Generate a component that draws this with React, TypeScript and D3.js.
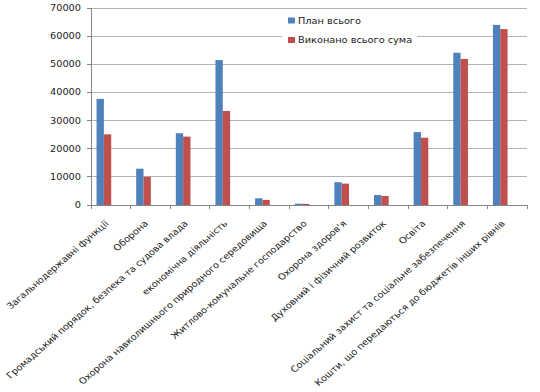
import { useEffect, useRef } from "react";
import * as d3 from "d3";

const categories = [
  "Загальнодержавні функції",
  "Оборона",
  "Громадський порядок, безпека та судова влада",
  "економічна діяльність",
  "Охорона навколишнього природного середовища",
  "Житлово-комунальне господарство",
  "Охорона здоров'я",
  "Духовний і фізичний розвиток",
  "Освіта",
  "Соціальний захист та соціальне забезпечення",
  "Кошти, що передаються до бюджетів інших рівнів",
];
const planTotal = [37700, 12900, 25500, 51500, 2400, 460, 8100, 3550, 25900, 54100, 64000];
const doneTotal = [25100, 10000, 24300, 33400, 1800, 400, 7600, 3200, 23900, 51900, 62500];
const seriesNames = ["План всього", "Виконано всього сума"];
const seriesColors = ["#4f81bd", "#c0504d"];
const yTicks = [0, 10000, 20000, 30000, 40000, 50000, 60000, 70000];

export default function App() {
  const ref = useRef<SVGSVGElement>(null);

  useEffect(() => {
    const svg = d3.select(ref.current);
    svg.selectAll("*").remove();
    const font = "DejaVu Sans, Verdana, sans-serif";
    const sx = 1.15; // the original picture is stretched sideways

    const left = 91, right = 527, top = 8, bottom = 205;
    const x = d3.scaleBand().domain(categories).range([left, right]);
    const y = d3.scaleLinear().domain([0, 70000]).range([bottom, top]);
    const bw = x.bandwidth();

    // gridlines
    svg.append("g")
      .selectAll("line")
      .data(yTicks.slice(1))
      .join("line")
      .attr("x1", left).attr("x2", right)
      .attr("y1", d => y(d)).attr("y2", d => y(d))
      .attr("stroke", "#b3b3b3").attr("stroke-width", 1)
      .attr("shape-rendering", "crispEdges");

    // legend background
    svg.append("rect")
      .attr("x", 282).attr("y", 11).attr("width", 135).attr("height", 41)
      .attr("fill", "white");

    // bars
    const series = [planTotal, doneTotal];
    const barW = bw * 0.185;
    series.forEach((vals, si) => {
      svg.append("g")
        .selectAll("rect")
        .data(vals)
        .join("rect")
        .attr("x", (_, i) => x(categories[i])! + bw * 0.14 + si * barW)
        .attr("y", d => y(d))
        .attr("width", barW)
        .attr("height", d => bottom - y(d))
        .attr("fill", seriesColors[si]);
    });

    // y axis
    const yg = svg.append("g");
    yg.append("line")
      .attr("x1", left).attr("x2", left).attr("y1", top).attr("y2", bottom)
      .attr("stroke", "#868686").attr("shape-rendering", "crispEdges");
    yg.selectAll("line.tk")
      .data(yTicks)
      .join("line")
      .attr("class", "tk")
      .attr("x1", left - 4).attr("x2", left)
      .attr("y1", d => y(d)).attr("y2", d => y(d))
      .attr("stroke", "#868686").attr("shape-rendering", "crispEdges");
    yg.selectAll("text")
      .data(yTicks)
      .join("text")
      .attr("transform", d => `translate(${left - 10},${y(d)}) scale(${sx},1)`)
      .attr("text-anchor", "end")
      .attr("dy", "0.35em")
      .attr("font-family", font).attr("font-size", 8.5).attr("fill", "#222")
      .text(d => d3.format("d")(d));

    // x axis line and ticks
    const xg = svg.append("g");
    xg.append("line")
      .attr("x1", left).attr("x2", right).attr("y1", bottom).attr("y2", bottom)
      .attr("stroke", "#868686").attr("shape-rendering", "crispEdges");
    const bounds = categories.map(c => x(c)!).concat([right]);
    xg.selectAll("line.tk")
      .data(bounds)
      .join("line")
      .attr("class", "tk")
      .attr("x1", d => d).attr("x2", d => d)
      .attr("y1", bottom).attr("y2", bottom + 4)
      .attr("stroke", "#868686").attr("shape-rendering", "crispEdges");

    // x labels
    xg.selectAll("text")
      .data(categories)
      .join("text")
      .attr("transform", d => `translate(${x(d)! + bw / 2 - 4},${bottom + 17}) scale(${sx},1) rotate(-45)`)
      .attr("text-anchor", "end")
      .attr("dy", "0.35em")
      .attr("font-family", font)
      .attr("font-size", 8.6)
      .attr("fill", "#222")
      .text(d => d);

    // legend
    const lg = svg.append("g");
    seriesNames.forEach((name, i) => {
      const ly = 21 + i * 19.5;
      lg.append("rect")
        .attr("x", 288).attr("y", ly - 3.5).attr("width", 7).attr("height", 6)
        .attr("fill", seriesColors[i]);
      lg.append("text")
        .attr("transform", `translate(298,${ly}) scale(${sx},1)`)
        .attr("dy", "0.35em")
        .attr("font-family", font).attr("font-size", 8.5).attr("fill", "#222")
        .text(name);
    });
  }, []);

  return (
    <svg ref={ref} width={540} height={392}
      style={{ position: "absolute", left: 0, top: 0, background: "white" }} />
  );
}
